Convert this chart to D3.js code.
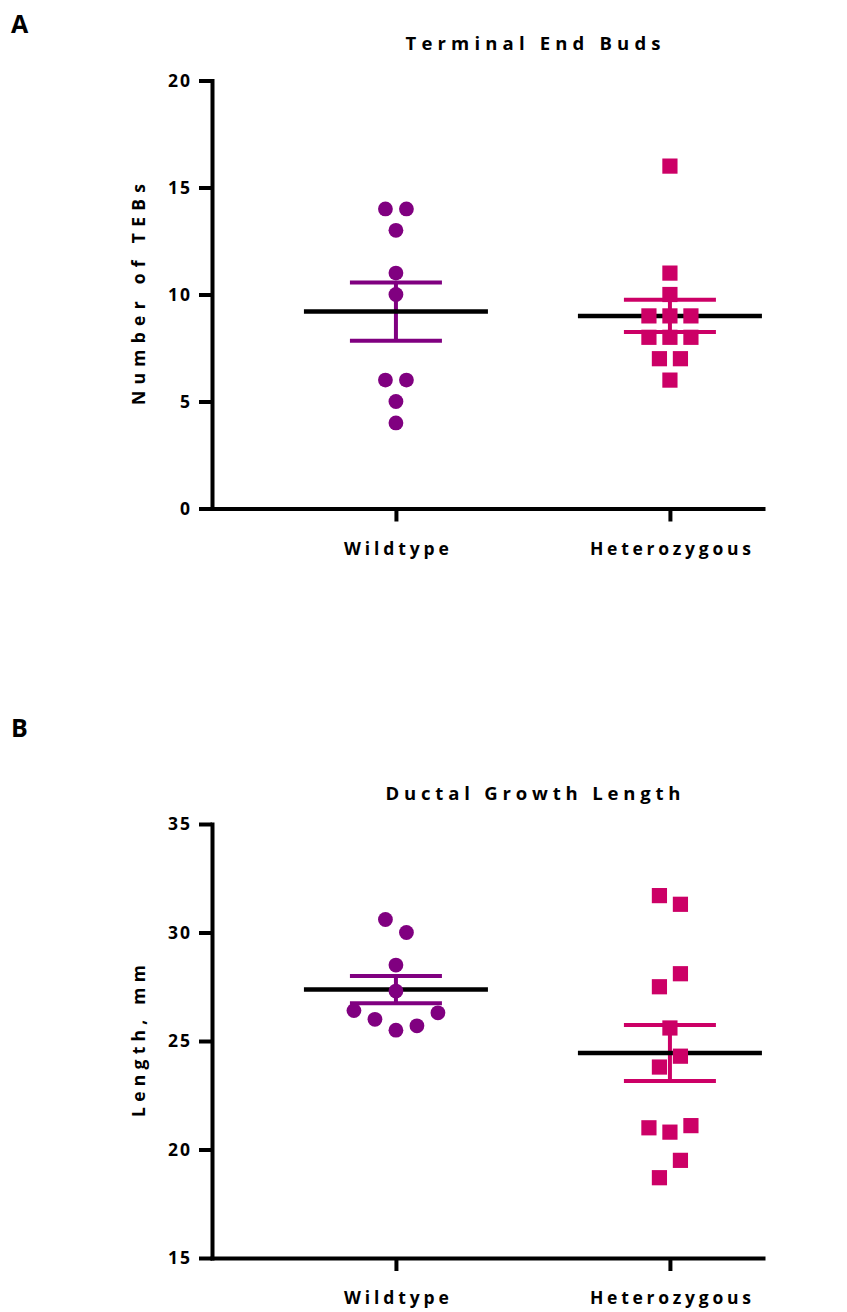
<!DOCTYPE html>
<html>
<head>
<meta charset="utf-8">
<script src="https://cdn.jsdelivr.net/npm/d3@7"></script>
<style>
  html, body { margin: 0; padding: 0; background: #fff; }
  svg { display: block; }
  text { font-family: "Open Sans", Lato, sans-serif; font-weight: 700; fill: #000; }
</style>
</head>
<body>
<svg id="chart" width="847" height="1312"></svg>
<script>
// Groups and their marker colours
const groups = ["Wildtype", "Heterozygous"];
const groupColors = ["#800080", "#CC0066"];
const groupShapes = ["circle", "square"];

// Panel A: terminal end buds counted per gland
const tebWildtype = [14, 14, 13, 11, 10, 6, 6, 5, 4];
const tebHeterozygous = [16, 11, 10, 9, 9, 9, 8, 8, 8, 7, 7, 6];
const tebMean = [9.2, 9.0];
const tebSem = [1.36, 0.75];
const tebTicks = [0, 5, 10, 15, 20];

// Panel B: ductal growth length (mm)
const lengthWildtype = [30.6, 30.0, 28.5, 27.3, 26.4, 26.0, 25.5, 25.7, 26.3];
const lengthHeterozygous = [31.7, 31.3, 27.5, 28.1, 25.6, 23.8, 24.3, 21.0, 20.8, 21.1, 18.7, 19.5];
const lengthMean = [27.37, 24.45];
const lengthSem = [0.63, 1.29];
const lengthTicks = [15, 20, 25, 30, 35];

const panels = [
  {
    letter: "A", title: "Terminal End Buds", yLabel: "Number of TEBs",
    series: [tebWildtype, tebHeterozygous], mean: tebMean, sem: tebSem, ticks: tebTicks,
    top: 80.5, bottom: 508.5, letterY: 33, titleY: 50,
    titleLen: 255, yLabelLen: 221
  },
  {
    letter: "B", title: "Ductal Growth Length", yLabel: "Length, mm",
    series: [lengthWildtype, lengthHeterozygous], mean: lengthMean, sem: lengthSem, ticks: lengthTicks,
    top: 824, bottom: 1258, letterY: 737, titleY: 800,
    titleLen: 295, yLabelLen: 152
  }
];

const svg = d3.select("#chart");
const plotLeft = 212, plotRight = 763, titleX = 533;
const xLabelLens = [105, 161];

// Spread points that share (nearly) the same height into centred rows
function spread(values, y, gap, step) {
  const order = d3.range(values.length).sort((a, b) => y(values[a]) - y(values[b]));
  const rows = [];
  let row = [order[0]];
  for (let i = 1; i < order.length; i++) {
    if (y(values[order[i]]) - y(values[order[i - 1]]) < gap) row.push(order[i]);
    else { rows.push(row); row = [order[i]]; }
  }
  rows.push(row);
  const offsets = new Array(values.length);
  rows.forEach(r => {
    r.sort((a, b) => a - b);
    r.forEach((k, j) => { offsets[k] = (j - (r.length - 1) / 2) * step; });
  });
  return offsets;
}

panels.forEach(p => {
  const g = svg.append("g");

  const y = d3.scaleLinear()
    .domain(d3.extent(p.ticks))
    .range([p.bottom, p.top]);

  const x = d3.scalePoint()
    .domain(groups)
    .range([plotLeft, plotRight])
    .padding(0.5055)
    .align(0.664);

  // panel letter
  g.append("text")
    .attr("x", 11).attr("y", p.letterY)
    .style("font-size", "25px")
    .text(p.letter);

  // title
  g.append("text")
    .attr("x", titleX).attr("y", p.titleY)
    .attr("text-anchor", "middle")
    .attr("textLength", p.titleLen)
    .attr("lengthAdjust", "spacing")
    .style("font-size", "18.5px")
    .text(p.title);

  // y axis
  const yAxis = g.append("g")
    .attr("transform", `translate(${plotLeft},0)`)
    .call(d3.axisLeft(y).tickValues(p.ticks).tickSize(13).tickSizeOuter(0).tickPadding(9));
  yAxis.select(".domain").attr("stroke-width", 4).attr("stroke-linecap", "square");
  yAxis.selectAll(".tick line").attr("stroke-width", 4);
  yAxis.selectAll(".tick text")
    .attr("font-family", null).attr("font-size", null)
    .style("font-size", "17.5px")
    .style("letter-spacing", "2px")
    .attr("dx", "2px");

  // x axis
  const xAxis = g.append("g")
    .attr("transform", `translate(0,${p.bottom})`)
    .call(d3.axisBottom(x).tickSize(13).tickSizeOuter(0).tickPadding(21));
  xAxis.select(".domain").attr("stroke-width", 4).attr("stroke-linecap", "square");
  xAxis.selectAll(".tick line").attr("stroke-width", 4);
  xAxis.selectAll(".tick text")
    .attr("font-family", null).attr("font-size", null)
    .style("font-size", "17.5px")
    .attr("textLength", (d, i) => xLabelLens[i])
    .attr("lengthAdjust", "spacing");

  // y axis title
  g.append("text")
    .attr("transform", `translate(145,${(p.top + p.bottom) / 2}) rotate(-90)`)
    .attr("text-anchor", "middle")
    .attr("textLength", p.yLabelLen)
    .attr("lengthAdjust", "spacing")
    .style("font-size", "17.5px")
    .text(p.yLabel);

  groups.forEach((grp, gi) => {
    const cx = x(grp);
    const color = groupColors[gi];
    const m = p.mean[gi], s = p.sem[gi];

    // SEM whiskers
    const eb = g.append("g").attr("stroke", color).attr("stroke-width", 4);
    eb.append("line").attr("x1", cx).attr("x2", cx).attr("y1", y(m + s)).attr("y2", y(m - s));
    [m + s, m - s].forEach(v => {
      eb.append("line").attr("x1", cx - 46).attr("x2", cx + 46).attr("y1", y(v)).attr("y2", y(v));
    });

    // mean
    g.append("line")
      .attr("x1", cx - 92).attr("x2", cx + 92)
      .attr("y1", y(m)).attr("y2", y(m))
      .attr("stroke", "#000").attr("stroke-width", 4.5);

    // individual values
    const vals = p.series[gi];
    const offs = spread(vals, y, 18.5, 21);
    if (groupShapes[gi] === "circle") {
      g.selectAll(null).data(vals).join("circle")
        .attr("cx", (d, i) => cx + offs[i])
        .attr("cy", d => y(d))
        .attr("r", 7.4)
        .attr("fill", color);
    } else {
      g.selectAll(null).data(vals).join("rect")
        .attr("x", (d, i) => cx + offs[i] - 7.6)
        .attr("y", d => y(d) - 7.6)
        .attr("width", 15.2).attr("height", 15.2)
        .attr("fill", color);
    }
  });
});
</script>
</body>
</html>
